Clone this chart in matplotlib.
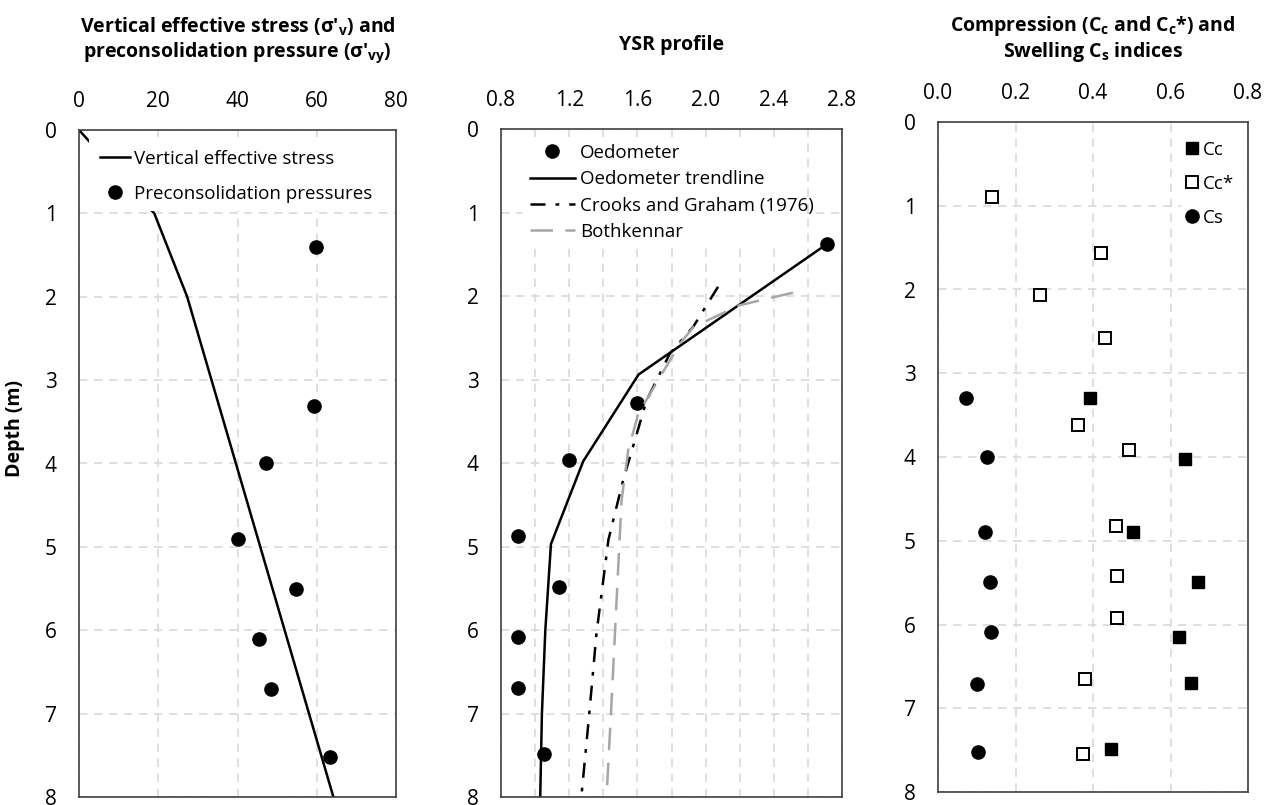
import matplotlib
matplotlib.use("Agg")
import matplotlib.pyplot as plt
from matplotlib.patches import Rectangle
import numpy as np

plt.rcParams['font.family'] = ['Open Sans', 'DejaVu Sans']
plt.rcParams['mathtext.fontset'] = 'custom'
plt.rcParams['mathtext.rm'] = 'Open Sans'
plt.rcParams['mathtext.bf'] = 'Open Sans:bold'

# panel 1: vertical effective stress and preconsolidation pressure
sv_stress = [0, 18, 19, 27.3, 64.2]
sv_depth = [0, 0.95, 1.0, 2.0, 8.0]
pc_stress = [59.9, 59.3, 47.1, 40.0, 54.8, 45.4, 48.5, 63.3]
pc_depth = [1.40, 3.31, 3.99, 4.91, 5.50, 6.11, 6.71, 7.52]

# panel 2: YSR profile
oed_ysr = [2.71, 1.60, 1.20, 0.90, 1.14, 0.90, 0.90, 1.05]
oed_depth = [1.38, 3.28, 3.97, 4.87, 5.48, 6.08, 6.69, 7.49]
trend_ysr = [2.71, 1.607, 1.282, 1.093, 1.06, 1.04, 1.03]
trend_depth = [1.38, 2.94, 3.98, 4.97, 6.0, 7.0, 8.0]
cg_ysr = [2.073, 1.927, 1.79, 1.654, 1.517, 1.43, 1.36, 1.316, 1.273]
cg_depth = [1.89, 2.37, 2.69, 3.25, 4.2, 4.92, 6.04, 7.04, 7.96]
bk_ysr = [2.513, 2.2, 1.93, 1.849, 1.605, 1.546, 1.507, 1.478, 1.449, 1.419]
bk_depth = [1.96, 2.11, 2.37, 2.57, 3.41, 3.85, 4.45, 5.64, 6.84, 8.0]

# panel 3: compression and swelling indices
ccs_val = [0.139, 0.421, 0.262, 0.432, 0.362, 0.493, 0.460, 0.462, 0.462, 0.379, 0.373]
ccs_depth = [0.89, 1.56, 2.07, 2.58, 3.62, 3.92, 4.82, 5.42, 5.92, 6.65, 7.55]
cc_val = [0.392, 0.637, 0.502, 0.670, 0.622, 0.652, 0.447]
cc_depth = [3.30, 4.02, 4.89, 5.49, 6.15, 6.70, 7.49]
cs_val = [0.071, 0.126, 0.122, 0.135, 0.137, 0.100, 0.104]
cs_depth = [3.30, 4.00, 4.89, 5.49, 6.09, 6.71, 7.52]

W, H = 1274, 805
fig = plt.figure(figsize=(W / 100, H / 100), dpi=100)

def px_axes(l, r, t, b):
    return fig.add_axes([l / W, 1 - b / H, (r - l) / W, (b - t) / H])

def style(ax, xmin, xmax, xgrid, xlab):
    ax.set_ylim(8, 0)
    ax.set_xlim(xmin, xmax)
    ax.set_yticks(range(0, 9))
    ax.set_xticks(xgrid)
    ax.xaxis.tick_top()
    ax.tick_params(length=0, labelsize=15)
    ax.tick_params(axis='x', pad=13)
    ax.tick_params(axis='y', pad=16)
    ax.grid(True, color='#d9d9d9', linestyle=(0, (5, 4)), linewidth=1.2)
    for s in ax.spines.values():
        s.set_color('#404040')
        s.set_linewidth(1.2)
    ax.set_xticklabels(xlab)

# white legend area (hides grid and line behind the legend, like the original)
def legend_box(ax, x0, x1, d0, d1):
    ax.add_patch(Rectangle((x0, 1 - d1 / 8), x1 - x0, (d1 - d0) / 8, transform=ax.transAxes,
                           facecolor='white', edgecolor='none', zorder=2.3))

# ---------- panel 1
ax1 = px_axes(79, 396, 130, 797)
style(ax1, 0, 80, [0, 20, 40, 60, 80], ['0', '20', '40', '60', '80'])
ax1.plot(sv_stress, sv_depth, color='black', lw=1.8, label='Vertical effective stress')
ax1.plot(pc_stress, pc_depth, 'o', color='black', ms=9.5, label='Preconsolidation pressures')
legend_box(ax1, 0.03, 0.985, 0.1, 0.97)
ax1.set_ylabel('Depth (m)', fontsize=14, fontweight='bold')
ax1.yaxis.set_label_coords(-0.17, 0.553)
ax1.set_title("Vertical effective stress (σ'$_\\mathbf{v}$) and\npreconsolidation pressure (σ'$_\\mathbf{vy}$)",
              fontsize=14, fontweight='bold', pad=53, linespacing=1.12)
ax1.legend(loc='upper left', bbox_to_anchor=(0.02, 0.993), fontsize=13.5, handlelength=1.6,
           handletextpad=0.2, labelspacing=0.9, frameon=False, borderpad=0.3)

# ---------- panel 2
ax2 = px_axes(501, 842, 129, 797)
style(ax2, 0.8, 2.8, np.arange(0.8, 2.81, 0.2),
      ['0.8', '', '1.2', '', '1.6', '', '2.0', '', '2.4', '', '2.8'])
ax2.plot(oed_ysr, oed_depth, 'o', color='black', ms=9.5, label='Oedometer')
ax2.plot(trend_ysr, trend_depth, color='black', lw=1.8, label='Oedometer trendline')
ax2.plot(cg_ysr, cg_depth, color='black', lw=1.8, linestyle=(0, (6, 4, 1.5, 4)),
         label='Crooks and Graham (1976)')
ax2.plot(bk_ysr, bk_depth, color='#a6a6a6', lw=1.8, linestyle=(0, (9, 5)), label='Bothkennar')
legend_box(ax2, 0.065, 0.897, 0.1, 1.37)
ax2.set_title('YSR profile', fontsize=14, fontweight='bold', pad=57)
ax2.legend(loc='upper left', bbox_to_anchor=(0.04, 1.0), fontsize=13.5, handlelength=2.4,
           handletextpad=0.3, labelspacing=0.44, frameon=False, borderpad=0.3)

# ---------- panel 3
ax3 = px_axes(938, 1248, 122, 792)
style(ax3, 0, 0.8, [0, 0.2, 0.4, 0.6, 0.8], ['0.0', '0.2', '0.4', '0.6', '0.8'])
ax3.plot(cc_val, cc_depth, 's', color='black', ms=8, label='Cc')
ax3.plot(ccs_val, ccs_depth, 's', mfc='white', mec='black', mew=1.4, ms=8, label='Cc*')
ax3.plot(cs_val, cs_depth, 'o', color='black', ms=9.5, label='Cs')
legend_box(ax3, 0.785, 0.995, 0.1, 1.3)
ax3.set_title("Compression (C$_\\mathbf{c}$ and C$_\\mathbf{c}$*) and\nSwelling C$_\\mathbf{s}$ indices",
              fontsize=14, fontweight='bold', pad=47, linespacing=1.12)
ax3.legend(loc='upper right', bbox_to_anchor=(1.015, 1.0), fontsize=13.5, handlelength=0.7,
           handletextpad=0.2, labelspacing=0.85, frameon=False, borderpad=0.5)

fig.savefig('out.png', dpi=100)
